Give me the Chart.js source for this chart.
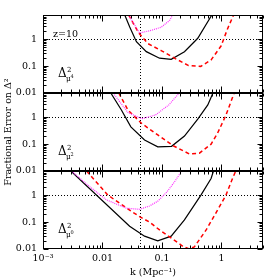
<!DOCTYPE html>
<html><head><meta charset="utf-8">
<script src="https://cdn.jsdelivr.net/npm/chart.js@4"></script>
<style>html,body{margin:0;padding:0;background:#fff;}#wrap{width:279px;height:279px;}</style>
</head><body><div id="wrap"><canvas id="c" width="279" height="279"></canvas></div>
<script>
// ---- data ----
const xTickValues = [0.001, 0.01, 0.1, 1];
const xTickLabels = ['10⁻³', '0.01', '0.1', '1'];
const yTickValues = [0.01, 0.1, 1];
const panelExponents = ['4', '2', '0']; // top, middle, bottom
const kRef = 0.042;
const redshiftLabel = 'z=10';

// top panel: Δ²_μ⁴
const kBlack4 = [0.0237, 0.0286, 0.0372, 0.0546, 0.091, 0.143, 0.239, 0.40, 0.69];
const vBlack4 = [8, 2.94, 0.81, 0.346, 0.197, 0.18, 0.346, 1.09, 8];
const kRed4 = [0.0275, 0.04, 0.058, 0.097, 0.168, 0.28, 0.45, 0.67, 0.985, 1.27, 1.6];
const vRed4 = [8, 1.8, 0.69, 0.38, 0.19, 0.105, 0.098, 0.17, 0.56, 2.48, 8];
const kMag4 = [0.0275, 0.042, 0.066, 0.097, 0.134, 0.152];
const vMag4 = [8, 1.7, 2.15, 2.8, 5.0, 8];

// middle panel: Δ²_μ²
const kBlack2 = [0.0138, 0.0208, 0.03, 0.051, 0.085, 0.145, 0.239, 0.40, 0.59, 0.72];
const vBlack2 = [8, 1.87, 0.44, 0.143, 0.079, 0.083, 0.2, 0.85, 2.87, 8];
const kRed2 = [0.0188, 0.0268, 0.045, 0.085, 0.155, 0.29, 0.426, 0.67, 0.86, 1.19, 1.64];
const vRed2 = [8, 1.87, 0.6, 0.22, 0.087, 0.043, 0.046, 0.1, 0.254, 1.2, 8];
const kMag2 = [0.0151, 0.0268, 0.046, 0.078, 0.13, 0.195];
const vMag2 = [8, 1.5, 0.88, 1.22, 2.87, 8];

// bottom panel: Δ²_μ⁰
const kBlack0 = [0.00294, 0.0286, 0.051, 0.085, 0.143, 0.239, 0.455, 0.67, 0.735];
const vBlack0 = [8, 0.07, 0.03, 0.02, 0.03, 0.121, 1.03, 4.2, 8];
const kRed0 = [0.0054, 0.0124, 0.0286, 0.042, 0.062, 0.097, 0.163, 0.224, 0.29, 0.35, 0.55, 0.86, 1.19, 1.5, 1.74];
const vRed0 = [8, 1, 0.28, 0.16, 0.1, 0.046, 0.021, 0.0126, 0.0101, 0.012, 0.05, 0.28, 1.0, 3.7, 8];
const kMag0 = [0.0030, 0.0061, 0.0117, 0.0252, 0.042, 0.062, 0.085, 0.12, 0.16, 0.215];
const vMag0 = [8, 2.09, 0.67, 0.33, 0.30, 0.40, 0.6, 1.3, 3.0, 8];

// ---- build ----
const FONT = 'DejaVu Serif';
const pts = (k, v) => k.map((x, i) => ({x: x, y: v[i]}));
function ds(k, v, axis, kind) {
  const base = {data: pts(k, v), yAxisID: axis, pointRadius: 0, tension: 0, fill: false};
  if (kind === 'black') return Object.assign(base, {borderColor: '#000', borderWidth: 1.2});
  if (kind === 'red') return Object.assign(base, {borderColor: '#ff0000', borderWidth: 1.5, borderDash: [4, 3]});
  return Object.assign(base, {borderColor: '#ff33ff', borderWidth: 1.2, borderDash: [1, 1]});
}
const datasets = [
  ds(kMag4, vMag4, 'y4', 'mag'), ds(kRed4, vRed4, 'y4', 'red'), ds(kBlack4, vBlack4, 'y4', 'black'),
  ds(kMag2, vMag2, 'y2', 'mag'), ds(kRed2, vRed2, 'y2', 'red'), ds(kBlack2, vBlack2, 'y2', 'black'),
  ds(kMag0, vMag0, 'y0', 'mag'), ds(kRed0, vRed0, 'y0', 'red'), ds(kBlack0, vBlack0, 'y0', 'black')
];

function yAxis(withTitle) {
  return {
    type: 'logarithmic', position: 'left', stack: 'panels', stackWeight: 1,
    min: 0.01, max: 8,
    grid: {display: false, drawTicks: false}, border: {display: false},
    afterBuildTicks: s => { s.ticks = yTickValues.map(v => ({value: v})); },
    ticks: {autoSkip: false, padding: 6, color: '#000', font: {family: FONT, size: 9.5},
      callback: v => String(v)},
    title: {display: withTitle, text: 'Fractional Error on Δ²', color: '#000',
      font: {family: FONT, size: 9.5}, padding: {top: 3, bottom: 0}},
    afterFit: s => { s.width = 43; }
  };
}

const panelPlugin = {
  id: 'panels',
  beforeDatasetsDraw(chart) {
    const ctx = chart.ctx, xs = chart.scales.x;
    ctx.save();
    ctx.strokeStyle = '#000'; ctx.lineWidth = 1; ctx.setLineDash([1, 2]);
    ['y4', 'y2', 'y0'].forEach(id => {
      const s = chart.scales[id];
      const py = Math.round(s.getPixelForValue(1)) + 0.5;
      ctx.beginPath(); ctx.moveTo(xs.left, py); ctx.lineTo(xs.right, py); ctx.stroke();
      const px = Math.round(xs.getPixelForValue(kRef)) + 0.5;
      ctx.beginPath(); ctx.moveTo(px, s.top); ctx.lineTo(px, s.bottom); ctx.stroke();
    });
    ctx.restore();
  },
  afterDatasetsDraw(chart) {
    const ctx = chart.ctx, xs = chart.scales.x;
    ctx.save();
    ctx.setLineDash([]);
    ['y4', 'y2', 'y0'].forEach((id, idx) => {
      const s = chart.scales[id];
      ctx.strokeStyle = '#000'; ctx.lineWidth = 1;
      const L = Math.round(xs.left) + 0.5, R = Math.round(xs.right) - 0.5;
      const T = Math.round(s.top) + 0.5, B = Math.round(s.bottom) - 0.5;
      ctx.strokeRect(L, T, R - L, B - T);
      ctx.beginPath();
      for (let e = -2; e <= 0; e++) for (let m = 1; m <= 9; m++) {
        const v = m * Math.pow(10, e); if (v > 8) continue;
        const py = Math.round(s.getPixelForValue(v)) + 0.5;
        const len = m === 1 ? 5 : 3;
        ctx.moveTo(L, py); ctx.lineTo(L + len, py);
        ctx.moveTo(R, py); ctx.lineTo(R - len, py);
      }
      for (let e = -3; e <= 0; e++) for (let m = 1; m <= 9; m++) {
        const v = m * Math.pow(10, e); if (v > 5) continue;
        const px = Math.round(xs.getPixelForValue(v)) + 0.5;
        const len = m === 1 ? 6 : 3;
        ctx.moveTo(px, T); ctx.lineTo(px, T + len);
        ctx.moveTo(px, B); ctx.lineTo(px, B - len);
      }
      ctx.stroke();
      // panel label Δ²_μⁿ
      ctx.fillStyle = '#000';
      ctx.textAlign = 'left'; ctx.textBaseline = 'alphabetic';
      const base = s.getPixelForValue(1) + 37.5;
      ctx.font = '12px ' + FONT; ctx.fillText('Δ', 58, base);
      ctx.font = '7px ' + FONT; ctx.fillText('2', 67, base - 5);
      ctx.font = '7.5px ' + FONT; ctx.fillText('μ', 66, base + 4);
      ctx.font = '5px ' + FONT; ctx.fillText(panelExponents[idx], 70.5, base + 1.5);
    });
    ctx.font = '9.5px ' + FONT; ctx.fillStyle = '#000';
    ctx.fillText(redshiftLabel, 53, chart.scales.y4.getPixelForValue(1) - 2);
    ctx.restore();
  }
};

new Chart(document.getElementById('c'), {
  type: 'line',
  data: {datasets: datasets},
  options: {
    responsive: false, animation: false, devicePixelRatio: 1,
    layout: {padding: {top: 15, right: 16, left: 0, bottom: 0}},
    plugins: {legend: {display: false}, tooltip: {enabled: false}},
    scales: {
      x: {
        type: 'logarithmic', position: 'bottom', min: 0.001, max: 5,
        grid: {display: false, drawTicks: false}, border: {display: false},
        afterBuildTicks: s => { s.ticks = xTickValues.map(v => ({value: v})); },
        ticks: {autoSkip: false, maxRotation: 0, padding: 4, color: '#000', font: {family: FONT, size: 9.5},
          callback: v => { const i = xTickValues.findIndex(t => Math.abs(t - v) / t < 1e-6); return i >= 0 ? xTickLabels[i] : ''; }},
        title: {display: true, text: 'k (Mpc⁻¹)', color: '#000', font: {family: FONT, size: 9.5}, padding: {top: 2, bottom: 1}},
        afterFit: s => { s.height = 30; }
      },
      y0: yAxis(false),
      y2: yAxis(true),
      y4: yAxis(false)
    }
  },
  plugins: [panelPlugin]
});
</script>
</body></html>
